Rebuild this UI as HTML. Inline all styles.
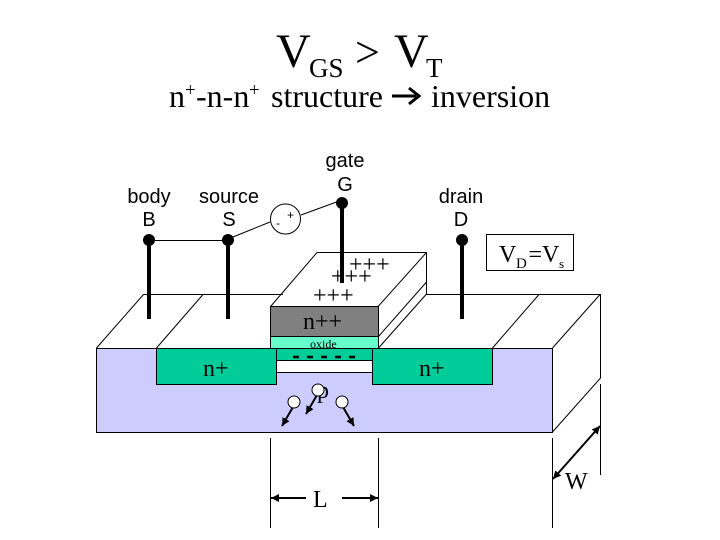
<!DOCTYPE html>
<html><head><meta charset="utf-8"><style>
html,body{margin:0;padding:0;background:#fff}
svg{display:block}
.s{font-family:"Liberation Serif",serif;fill:#000}
.a{font-family:"Liberation Sans",sans-serif;fill:#000;text-anchor:middle;font-size:20px}
</style></head><body>
<svg width="720" height="540" viewBox="0 0 720 540" xmlns="http://www.w3.org/2000/svg">
<defs>
<marker id="ah" markerWidth="10" markerHeight="10" refX="8" refY="4" orient="auto-start-reverse" markerUnits="userSpaceOnUse"><path d="M0 0L8 4L0 8z" fill="#000"/></marker>
</defs>
<!-- title -->
<text class="s" x="276" y="67" font-size="48">V</text>
<text class="s" x="309" y="77" font-size="27">GS</text>
<text class="s" x="355" y="67" font-size="44">&gt;</text>
<text class="s" x="394" y="67" font-size="48">V</text>
<text class="s" x="426" y="77" font-size="27">T</text>
<text class="s" x="169" y="107" font-size="32">n</text>
<text class="s" x="185" y="96" font-size="19">+</text>
<text class="s" x="196" y="107" font-size="32">-n-n</text>
<text class="s" x="249" y="96" font-size="19">+</text>
<text class="s" x="271" y="107" font-size="32">structure</text>
<path d="M392 96H416" stroke="#000" stroke-width="3" fill="none"/>
<path d="M409 88L419 96L409 104" stroke="#000" stroke-width="3" fill="none"/>
<text class="s" x="431" y="107" font-size="32">inversion</text>
<!-- back lines -->
<g fill="none" stroke="#000" stroke-width="1">
<path d="M143.500 294.500H283"/>
<path d="M426 294.500H600.500V378L552.500 432"/>
<path d="M96.500 348L143.500 294.500"/>
<path d="M156.500 348L203 294.500"/>
<path d="M492.500 348L539 294.500"/>
<path d="M552.500 348L600 294.500"/>
<path d="M317 252.500H426.500V294L378.500 348"/>
<path d="M271 306L317 252.500"/>
<path d="M378.500 306L426.500 252.500"/>
<path d="M378.500 336.500L426.500 282"/>
</g>
<!-- substrate -->
<rect x="96.500" y="348.500" width="456" height="84" fill="#ccccff" stroke="#000"/>
<!-- n+ -->
<rect x="156.500" y="348.500" width="120" height="36" fill="#00cc99" stroke="#000"/>
<rect x="372.500" y="348.500" width="120" height="36" fill="#00cc99" stroke="#000"/>
<!-- channel -->
<rect x="276.500" y="348.500" width="96" height="12" fill="#00cc99" stroke="#000"/>
<rect x="276.500" y="360.500" width="96" height="12" fill="#fff" stroke="#000"/>
<!-- oxide -->
<rect x="270.500" y="336.500" width="108" height="12" fill="#66ffcc" stroke="#000"/>
<!-- gate -->
<rect x="270.500" y="306.500" width="108" height="30" fill="#808080" stroke="#000"/>
<!-- contacts -->
<g stroke="#000" stroke-width="4">
<path d="M149 240V319"/>
<path d="M228 240V319"/>
<path d="M342 203V283"/>
<path d="M462 240V319"/>
</g>
<g fill="#000">
<circle cx="149" cy="240" r="6"/>
<circle cx="228" cy="240" r="6"/>
<circle cx="342" cy="203" r="6"/>
<circle cx="462" cy="240" r="6"/>
</g>
<!-- wires -->
<g fill="none" stroke="#000">
<path d="M149 240.500H228"/>
<path d="M233 237L270 222"/>
<path d="M301 215L342 200"/>
<circle cx="285.500" cy="219" r="15" fill="#fff"/>
</g>
<text x="276" y="227" font-family="Liberation Sans,sans-serif" font-size="12">-</text>
<text x="287" y="219" font-family="Liberation Sans,sans-serif" font-size="12">+</text>
<!-- labels -->
<text class="a" x="149" y="203">body</text>
<text class="a" x="149" y="226">B</text>
<text class="a" x="229" y="203">source</text>
<text class="a" x="229" y="226">S</text>
<text class="a" x="345" y="167">gate</text>
<text class="a" x="345" y="191">G</text>
<text class="a" x="461" y="203">drain</text>
<text class="a" x="461" y="226">D</text>
<!-- VD=Vs -->
<rect x="486.500" y="234.500" width="87" height="36" fill="#fff" stroke="#000"/>
<text class="s" x="499" y="262" font-size="24">V</text>
<text class="s" x="516" y="268" font-size="15">D</text>
<text class="s" x="528.500" y="262" font-size="24">=V</text>
<text class="s" x="559" y="268" font-size="13">s</text>
<!-- plus signs -->
<text class="s" x="349" y="272" font-size="24">+++</text>
<text class="s" x="331" y="284" font-size="24">+++</text>
<text class="s" x="313" y="303" font-size="24">+++</text>
<text class="s" x="303" y="329" font-size="24">n++</text>
<text class="s" x="310" y="348" font-size="12">oxide</text>
<text class="s" x="203" y="376" font-size="24">n+</text>
<text class="s" x="419" y="376" font-size="24">n+</text>
<text class="s" x="317" y="398" font-size="24">p</text>
<!-- minus signs -->
<g stroke="#000" stroke-width="2.500">
<path d="M293 357h6M307 357h6M321 357h6M335 357h6M349 357h6"/>
</g>
<!-- electrons -->
<g stroke="#000" stroke-width="2" fill="none">
<path d="M293 407L282 426" marker-end="url(#ah)"/>
<path d="M317 395L306 414" marker-end="url(#ah)"/>
<path d="M343 407L354 426" marker-end="url(#ah)"/>
</g>
<g fill="#fff" stroke="#000">
<circle cx="294" cy="402" r="6"/>
<circle cx="318" cy="390" r="6"/>
<circle cx="342" cy="402" r="6"/>
</g>
<!-- dimension L -->
<g stroke="#000" fill="none">
<path d="M270.500 438V528"/>
<path d="M378.500 438V528"/>
<path d="M306 498H271" stroke-width="2" marker-end="url(#ah)"/>
<path d="M342 498H378" stroke-width="2" marker-end="url(#ah)"/>
</g>
<text class="s" x="313" y="507" font-size="24">L</text>
<!-- dimension W -->
<g stroke="#000" fill="none">
<path d="M552.500 438V528"/>
<path d="M600.500 384V475"/>
<path d="M553 479L600 426" stroke-width="2" marker-end="url(#ah)" marker-start="url(#ah)"/>
</g>
<text class="s" x="565" y="489" font-size="24">W</text>
</svg>
</body></html>
